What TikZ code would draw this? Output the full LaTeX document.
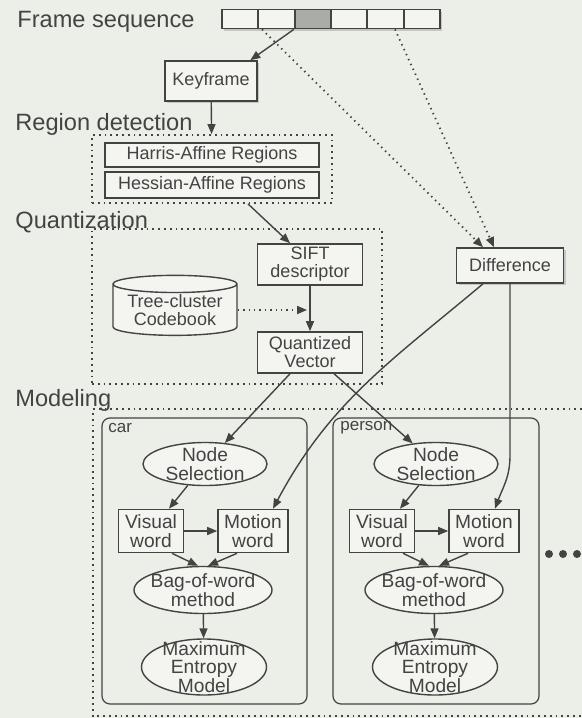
\documentclass[tikz,border=0pt]{standalone}
\usepackage{fontspec}
\setmainfont{Liberation Sans}
\usetikzlibrary{shapes.geometric,shadows,arrows.meta}

\definecolor{paper}{RGB}{236,238,232}
\definecolor{ink}{RGB}{66,68,66}
\definecolor{boxfill}{RGB}{244,245,241}
\definecolor{keygray}{RGB}{170,172,167}

\begin{document}
\begin{tikzpicture}[x=0.5pt,y=-0.5pt,
    every node/.style={text=ink, font=\fontsize{9}{9}\selectfont},
    stage/.style={anchor=base west, inner sep=0pt, font=\fontsize{11.8}{14}\selectfont},
    tag/.style={anchor=base west, inner sep=0pt, font=\fontsize{8.5}{10}\selectfont},
    framebox/.style={draw=ink, line width=0.9pt, minimum width=18.15pt, minimum height=9.5pt, inner sep=0pt},
    process/.style={draw=ink, line width=0.8pt, fill=boxfill, align=center, inner sep=1pt},
    word/.style={process, font=\fontsize{9.6}{9.2}\selectfont, minimum height=21.5pt},
    module/.style={ellipse, draw=ink, line width=0.7pt, fill=boxfill, align=center,
                   font=\fontsize{9.6}{9.2}\selectfont, inner xsep=-2pt, inner ysep=-2.5pt},
    stagebox/.style={draw=ink, line width=0.9pt, dotted},
    panel/.style={draw=ink, line width=0.6pt, rounded corners=4pt},
    lifted/.style={drop shadow={shadow xshift=1pt, shadow yshift=-1.2pt, opacity=0.35}},
    link/.style={draw=ink, line width=0.7pt, -{Triangle[length=5pt,width=4pt]}},
    hint/.style={link, dotted, line width=0.9pt}]

   \path[use as bounding box, fill=paper] (0,0) rectangle (582,718);

   % frame sequence
   \node[stage] (lblframe) at (17,27) {Frame sequence};
   \foreach \i/\c in {0/boxfill,1/boxfill,2/keygray,3/boxfill,4/boxfill,5/boxfill}
      \node[framebox, fill=\c, lifted] (f\i) at (240.2+36.33*\i,19) {};
   \node[process, lifted, minimum width=46pt, minimum height=20pt] (key) at (211,81) {Keyframe};

   % region detection
   \node[stage] (lblregion) at (15,130) {Region detection};
   \node[stagebox, minimum width=120pt, minimum height=34pt] (regbox) at (212,169) {};
   \node[process, minimum width=107pt, minimum height=12pt] (harris) at (212,155) {Harris-Affine Regions};
   \node[process, minimum width=107pt, minimum height=13pt] (hessian) at (212,185) {Hessian-Affine Regions};

   % quantization
   \node[stage] (lblquant) at (15,228) {Quantization};
   \node[stagebox, minimum width=145pt, minimum height=77.5pt] (quantbox) at (237,306.5) {};
   \node[process, minimum width=52.5pt, minimum height=20.5pt] (sift) at (310,264.5) {SIFT\\descriptor};
   \node[process, minimum width=52.5pt, minimum height=20.5pt] (quant) at (310,352.5) {Quantized\\Vector};
   \node[cylinder, shape border rotate=90, aspect=0.18, draw=ink, line width=0.7pt, fill=boxfill,
         inner sep=0pt, minimum width=62pt, minimum height=30pt, align=center] (tree) at (175,310) {Tree-cluster\\Codebook};
   \coordinate (tap) at (quant.north |- tree);
   \node[process, lifted, minimum width=53.5pt, minimum height=17.5pt] (diff) at (510,265.5) {Difference};

   % modeling
   \node[stage] (lblmodel) at (15,406) {Modeling};
   \draw[stagebox] (582,409) -- (93,409) -- (93,716) -- (582,716);
   \node[panel, minimum width=102.5pt, minimum height=143pt] (carpanel) at (204.5,561) {};
   \node[panel, minimum width=103pt, minimum height=143pt] (personpanel) at (436,561) {};
   \node[tag] (carlbl) at (108,432) {car};
   \node[tag] (personlbl) at (340,430) {person};

   \node[module, minimum width=62pt, minimum height=21.5pt] (ns1) at (205,464) {Node\\Selection};
   \node[word, minimum width=32.5pt] (vw1) at (151,531) {Visual\\word};
   \node[word, minimum width=35pt] (mw1) at (253,531) {Motion\\word};
   \node[module, minimum width=69pt, minimum height=23.5pt] (bag1) at (203,590) {Bag-of-word\\method};
   \node[module, inner ysep=-4pt, minimum width=62.5pt, minimum height=28pt] (max1) at (204,667) {Maximum\\Entropy\\Model};

   \node[module, minimum width=62pt, minimum height=21.5pt] (ns2) at (436,464) {Node\\Selection};
   \node[word, minimum width=32.5pt] (vw2) at (382,531) {Visual\\word};
   \node[word, minimum width=35pt] (mw2) at (484,531) {Motion\\word};
   \node[module, minimum width=69pt, minimum height=23.5pt] (bag2) at (434,590) {Bag-of-word\\method};
   \node[module, inner ysep=-4pt, minimum width=62.5pt, minimum height=28pt] (max2) at (435,667) {Maximum\\Entropy\\Model};

   \fill[ink] (549,554) circle (2pt);
   \fill[ink] (563,554) circle (2pt);
   \fill[ink] (577,554) circle (2pt);

   % connectors
   \draw[link] (f2.south west) -- ([xshift=-3.75pt]key.north east);
   \draw[link] (key) -- (regbox);
   \draw[hint] ([xshift=-7.25pt]f1.south) -- ([xshift=-13.5pt]diff.north);
   \draw[hint] ([xshift=4.75pt]f4.south) -- ([xshift=-8pt]diff.north);
   \draw[link] ([xshift=18pt]regbox.south) -- ([xshift=-10pt]sift.north);
   \draw[link] (sift) -- (quant);
   \draw[hint] (tree) -- ([xshift=-1.5pt]tap);
   \draw[link] (quant) -- (ns1);
   \draw[link] (quant) -- (ns2);
   \draw[link] ([xshift=-13.5pt]diff.south) to[out=-140,in=62] ([xshift=10pt]mw1.north);
   \draw[link] (diff.south) -- ++(0,172) to[out=-90,in=70] ([xshift=5.5pt]mw2.north);

   \draw[link] (ns1) -- (vw1);
   \draw[link] (vw1) -- (mw1);
   \draw[link] ([xshift=10.5pt]vw1.south) -- ([xshift=-2.5pt]bag1.north);
   \draw[link] ([xshift=-8pt]mw1.south) -- ([xshift=2.5pt]bag1.north);
   \draw[link] (bag1) -- (max1);

   \draw[link] (ns2) -- (vw2);
   \draw[link] (vw2) -- (mw2);
   \draw[link] ([xshift=10.5pt]vw2.south) -- ([xshift=-2.5pt]bag2.north);
   \draw[link] ([xshift=-8pt]mw2.south) -- ([xshift=2.5pt]bag2.north);
   \draw[link] (bag2) -- (max2);
\end{tikzpicture}
\end{document}
